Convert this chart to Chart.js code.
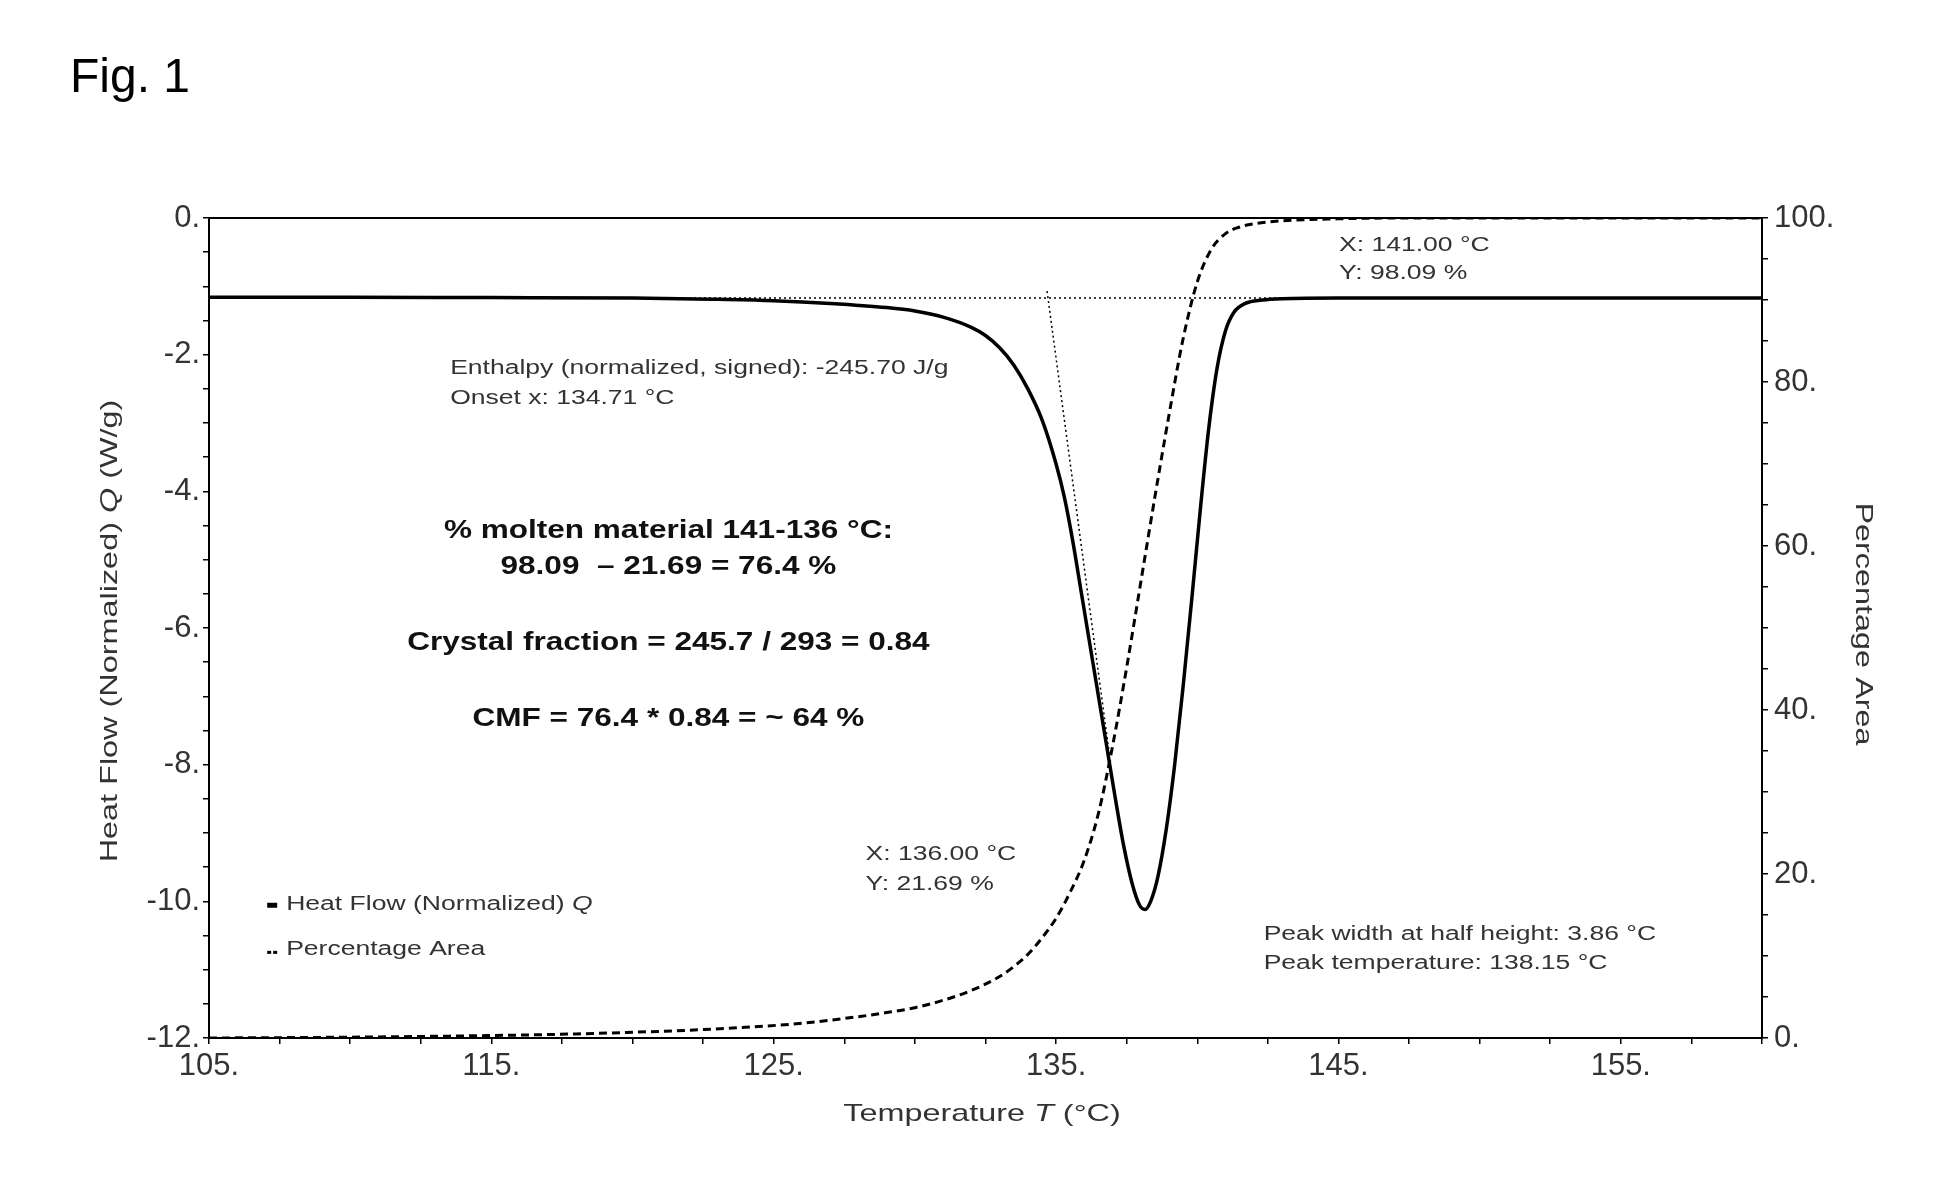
<!DOCTYPE html>
<html><head><meta charset="utf-8">
<script src="https://cdn.jsdelivr.net/npm/chart.js@4.4.1/dist/chart.umd.min.js"></script>
<style>html,body{margin:0;padding:0;background:#fff;overflow:hidden}</style>
</head><body>
<canvas id="c" width="1947" height="1204"></canvas>
<script>
// ---- data ----
const heatT = [105,110,115,120,123,125,127,129,130,131,132,132.5,133,133.5,134,134.5,135,135.3,135.6,135.9,136.2,136.5,136.8,137.1,137.4,137.7,137.95,138.15,138.35,138.6,138.9,139.2,139.5,139.8,140.1,140.4,140.7,141.0,141.3,141.7,142.3,143,145,150,155,160];
const heatQ = [-1.16,-1.16,-1.165,-1.17,-1.19,-1.21,-1.25,-1.31,-1.36,-1.45,-1.6,-1.72,-1.9,-2.15,-2.5,-2.95,-3.6,-4.1,-4.75,-5.5,-6.25,-7.0,-7.75,-8.5,-9.2,-9.75,-10.05,-10.12,-10.0,-9.65,-8.95,-8.0,-6.85,-5.6,-4.3,-3.1,-2.2,-1.65,-1.38,-1.25,-1.2,-1.18,-1.17,-1.17,-1.17,-1.17];
const pctT = [105,110,115,118,120,122,124,126,128,129,130,131,132,133,133.5,134,134.5,135,135.5,136,136.5,137,137.5,138,138.5,139,139.5,140,140.5,141,141.5,142,143,145,147,160];
const pctA = [0,0.1,0.3,0.5,0.7,0.95,1.3,1.8,2.6,3.1,3.7,4.6,5.8,7.5,8.7,10.2,12.2,14.6,17.8,21.69,27.4,35.6,45.2,55.6,66,76,85.3,92.2,96.2,98.09,98.9,99.3,99.65,99.9,100,100];
const baseT = [105,160];
const baseQ = [-1.17,-1.17];
const tanT = [134.68,136.9];
const tanQ = [-1.07,-7.89];
const xLabels = [105,115,125,135,145,155];
const yLabels = [0,-2,-4,-6,-8,-10,-12];
const y2Labels = [0,20,40,60,80,100];

const FONT = '"Liberation Sans", Arial, sans-serif';
const pts = (xs, ys) => xs.map((v,i)=>({x:v,y:ys[i]}));
const has = (arr,v) => arr.some(a=>Math.abs(a-v)<1e-6);

function drawRuns(ctx, runs, x, y, opt){
  const size=opt.size||20, weight=opt.weight||'normal', sx=opt.sx||1, align=opt.align||'left', rot=opt.rot||0;
  ctx.save();
  ctx.translate(x,y);
  if(rot) ctx.rotate(rot);
  ctx.scale(sx,1);
  ctx.textBaseline='middle'; ctx.textAlign='left';
  ctx.fillStyle=opt.color||'#333';
  const ws=[]; let total=0;
  runs.forEach(r=>{ctx.font=`${r[1]?'italic ':''}${weight} ${size}px ${FONT}`; const w=ctx.measureText(r[0]).width; ws.push(w); total+=w;});
  let cx = align==='center'?-total/2:(align==='right'?-total:0);
  runs.forEach((r,i)=>{ctx.font=`${r[1]?'italic ':''}${weight} ${size}px ${FONT}`; ctx.fillText(r[0],cx,0); cx+=ws[i];});
  ctx.restore();
}

const annot = {
  id:'annot',
  afterDraw(chart){
    const {ctx, chartArea:ca, scales:{x,y}} = chart;
    ctx.save();
    ctx.strokeStyle='#000'; ctx.lineWidth=2;
    ctx.strokeRect(ca.left, ca.top, ca.right-ca.left, ca.bottom-ca.top);
    ctx.restore();
    const P = (t,q)=>[x.getPixelForValue(t), y.getPixelForValue(q)];
    const small = {size:19.5, sx:1.36, color:'#333'};
    let p;
    p=P(113.54,-2.21); drawRuns(ctx,[['Enthalpy (normalized, signed): -245.70 J/g']],p[0],p[1],small);
    p=P(113.54,-2.65); drawRuns(ctx,[['Onset x: 134.71 °C']],p[0],p[1],small);
    const bold = {size:26.5, sx:1.19, weight:'bold', color:'#111', align:'center'};
    p=P(121.27,-4.57); drawRuns(ctx,[['% molten material 141-136 °C:']],p[0],p[1],bold);
    p=P(121.27,-5.11); drawRuns(ctx,[['98.09  – 21.69 = 76.4 %']],p[0],p[1],bold);
    p=P(121.27,-6.21); drawRuns(ctx,[['Crystal fraction = 245.7 / 293 = 0.84']],p[0],p[1],bold);
    p=P(121.27,-7.33); drawRuns(ctx,[['CMF = 76.4 * 0.84 = ~ 64 %']],p[0],p[1],bold);
    p=P(128.25,-9.31); drawRuns(ctx,[['X: 136.00 °C']],p[0],p[1],small);
    p=P(128.25,-9.76); drawRuns(ctx,[['Y: 21.69 %']],p[0],p[1],small);
    p=P(145.02,-0.40); drawRuns(ctx,[['X: 141.00 °C']],p[0],p[1],small);
    p=P(145.02,-0.82); drawRuns(ctx,[['Y: 98.09 %']],p[0],p[1],small);
    p=P(142.35,-10.49); drawRuns(ctx,[['Peak width at half height: 3.86 °C']],p[0],p[1],small);
    p=P(142.35,-10.91); drawRuns(ctx,[['Peak temperature: 138.15 °C']],p[0],p[1],small);
    // legend
    p=P(107.06,-10.05);
    ctx.save(); ctx.fillStyle='#000'; ctx.fillRect(p[0],p[1]-2,10,5); ctx.restore();
    drawRuns(ctx,[['Heat Flow (Normalized) '],['Q',true]],p[0]+19,p[1],small);
    p=P(107.06,-10.71);
    ctx.save(); ctx.fillStyle='#000'; ctx.fillRect(p[0],p[1]+1,4,3); ctx.fillRect(p[0]+6,p[1]+1,4,3); ctx.restore();
    drawRuns(ctx,[['Percentage Area']],p[0]+19,p[1],small);
    // axis titles
    drawRuns(ctx,[['Heat Flow (Normalized) '],['Q',true],[' (W/g)']],110,631,{size:24,sx:1.35,align:'center',rot:-Math.PI/2,color:'#333'});
    drawRuns(ctx,[['Percentage Area']],1863,624,{size:24,sx:1.35,align:'center',rot:Math.PI/2,color:'#333'});
    drawRuns(ctx,[['Temperature '],['T',true],[' (°C)']],982,1114,{size:24,sx:1.35,align:'center',color:'#333'});
    drawRuns(ctx,[['Fig. 1']],70,79,{size:48,color:'#000'});
  }
};

const tickFont = {family:FONT, size:31};
const gridCfg = {display:true, drawOnChartArea:false, drawTicks:true, tickLength:6, color:'#000', lineWidth:1.5};
const borderCfg = {display:true, color:'#000', width:2};

new Chart(document.getElementById('c'), {
  type:'line',
  data:{datasets:[
    {label:'Heat Flow (Normalized) Q', data:pts(heatT,heatQ), yAxisID:'y', borderColor:'#000', borderWidth:3.5, pointRadius:0, cubicInterpolationMode:'monotone', fill:false},
    {label:'Percentage Area', data:pts(pctT,pctA), yAxisID:'y2', borderColor:'#000', borderWidth:3, borderDash:[8,5], pointRadius:0, cubicInterpolationMode:'monotone', fill:false},
    {label:'baseline', data:pts(baseT,baseQ), yAxisID:'y', borderColor:'#000', borderWidth:1.5, borderDash:[2,3], pointRadius:0, fill:false},
    {label:'onset tangent', data:pts(tanT,tanQ), yAxisID:'y', borderColor:'#000', borderWidth:1.5, borderDash:[2,3], pointRadius:0, fill:false}
  ]},
  options:{
    responsive:false, animation:false, devicePixelRatio:1,
    layout:{padding:{top:218,left:0,right:0,bottom:0}},
    plugins:{legend:{display:false}, tooltip:{enabled:false}},
    scales:{
      x:{type:'linear', position:'bottom', min:105, max:160,
         ticks:{stepSize:2.5, autoSkip:false, maxRotation:0, padding:4, color:'#333', font:tickFont,
                callback:v=>has(xLabels,v)?v+'.':''},
         grid:gridCfg, border:borderCfg, afterFit:s=>{s.height=166;}},
      y:{type:'linear', position:'left', min:-12, max:0,
         ticks:{stepSize:0.5, autoSkip:false, padding:3, color:'#333', font:tickFont,
                callback:v=>has(yLabels,v)?v+'.':''},
         grid:gridCfg, border:borderCfg, afterFit:s=>{s.width=209;}},
      y2:{type:'linear', position:'right', min:0, max:100,
         ticks:{stepSize:5, autoSkip:false, padding:6, color:'#333', font:tickFont,
                callback:v=>has(y2Labels,v)?v+'.':''},
         grid:gridCfg, border:borderCfg, afterFit:s=>{s.width=185;}}
    }
  },
  plugins:[annot]
});
</script>
</body></html>
